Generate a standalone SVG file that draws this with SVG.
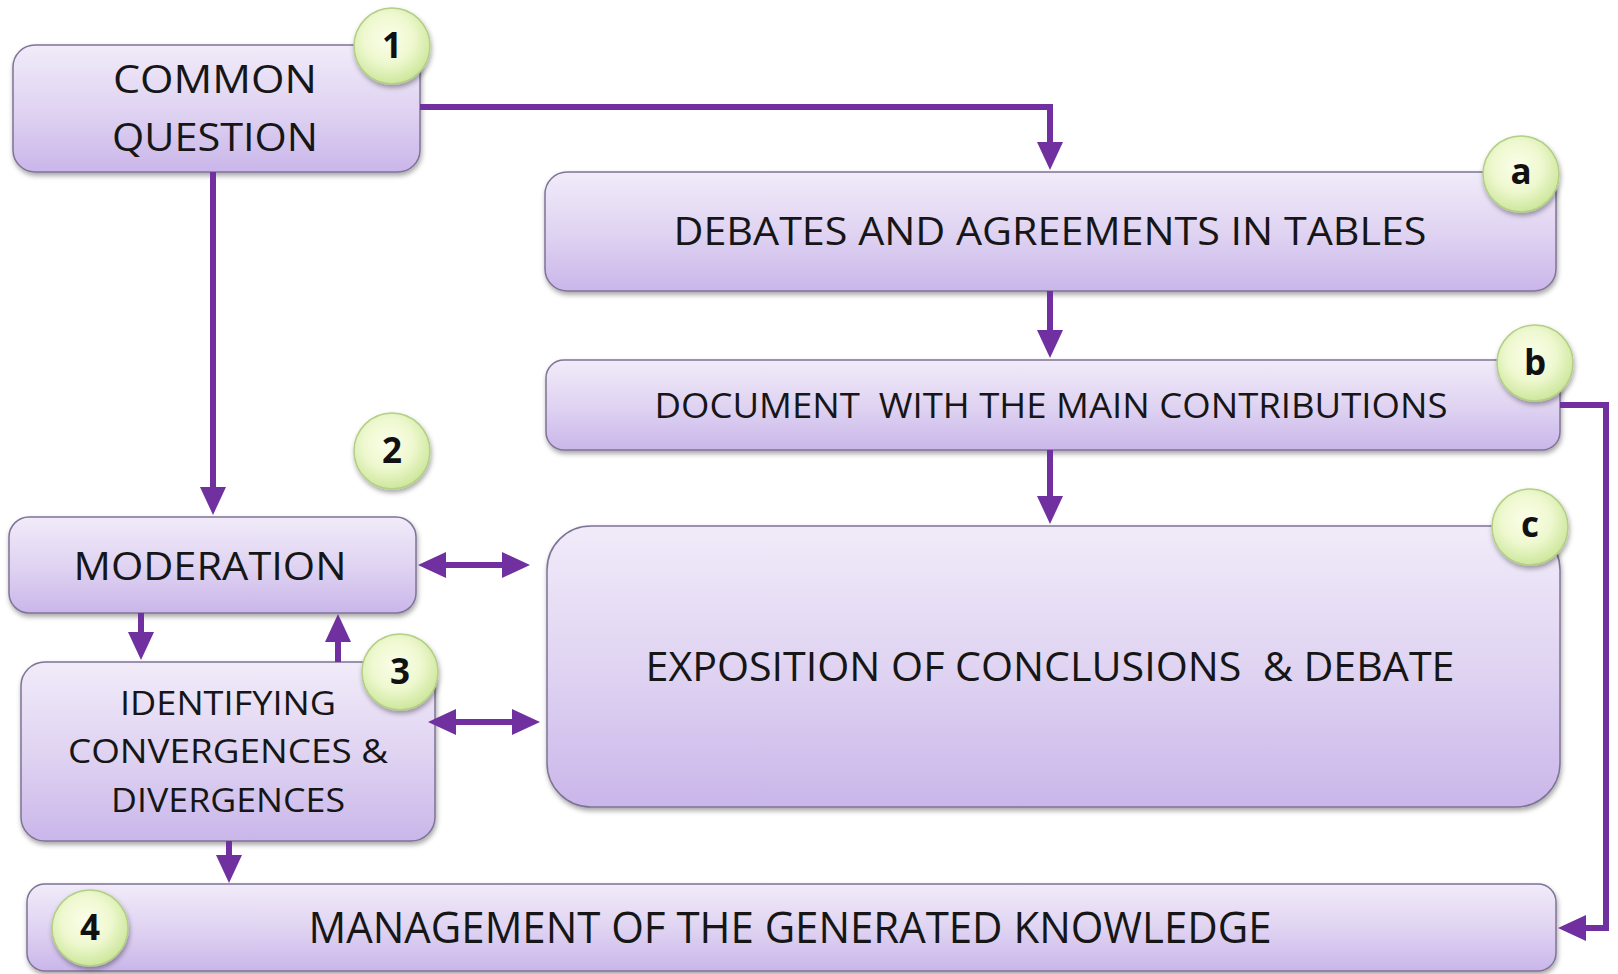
<svg xmlns="http://www.w3.org/2000/svg" width="1618" height="974" viewBox="0 0 1618 974">
<defs>
  <linearGradient id="boxGrad" x1="0" y1="0" x2="0" y2="1">
    <stop offset="0" stop-color="#f1ebf9"/>
    <stop offset="0.5" stop-color="#e0d4f2"/>
    <stop offset="1" stop-color="#cab6ea"/>
  </linearGradient>
  <radialGradient id="badgeGrad" cx="0.45" cy="0.4" r="0.6">
    <stop offset="0" stop-color="#fbfeea"/>
    <stop offset="0.55" stop-color="#eef8cf"/>
    <stop offset="1" stop-color="#cde79c"/>
  </radialGradient>
  <filter id="shadow" x="-10%" y="-10%" width="120%" height="130%">
    <feDropShadow dx="1" dy="3" stdDeviation="2.5" flood-color="#000" flood-opacity="0.35"/>
  </filter>
  <marker id="arrow" markerUnits="userSpaceOnUse" markerWidth="28" markerHeight="26" refX="14" refY="13" orient="auto-start-reverse" viewBox="0 0 28 26">
    <path d="M0,0 L28,13 L0,26 z" fill="#7030a0"/>
  </marker>
  <style>
    .box { fill: url(#boxGrad); stroke: #7f7396; stroke-width: 1.5; filter: url(#shadow); }
    .badge { fill: url(#badgeGrad); stroke: #b3cf86; stroke-width: 1.5; filter: url(#shadow); }
    .lbl { font-family: "Open Sans", "Liberation Sans", sans-serif; fill: #161616; text-anchor: middle; white-space: pre; }
    .num { font-family: "Open Sans", "Liberation Sans", sans-serif; font-weight: bold; font-size: 35px; fill: #111; text-anchor: middle; }
    .conn { fill: none; stroke: #7030a0; stroke-width: 6; }
    .arr { marker-end: url(#arrow); }
    .dbl { marker-start: url(#arrow); marker-end: url(#arrow); }
  </style>
</defs>
<rect width="1618" height="974" fill="#ffffff"/>

<g id="node-common-question">
  <rect class="box" x="13" y="45" width="407" height="127" rx="22"/>
  <text class="lbl" x="215" y="93" font-size="39" textLength="204" lengthAdjust="spacingAndGlyphs">COMMON</text>
  <text class="lbl" x="215" y="151" font-size="39" textLength="206" lengthAdjust="spacingAndGlyphs">QUESTION</text>
  <circle class="badge" cx="392" cy="46" r="38"/>
  <text class="num" x="392" y="58">1</text>
</g>

<g id="node-debates">
  <rect class="box" x="545" y="172" width="1011" height="119" rx="22"/>
  <text class="lbl" x="1050" y="245" font-size="39" textLength="753" lengthAdjust="spacingAndGlyphs">DEBATES AND AGREEMENTS IN TABLES</text>
  <circle class="badge" cx="1521" cy="174" r="38"/>
  <text class="num" x="1521" y="184">a</text>
</g>

<g id="node-document">
  <rect class="box" x="546" y="360" width="1014" height="90" rx="18"/>
  <text class="lbl" x="1051" y="418" font-size="35" textLength="793" lengthAdjust="spacingAndGlyphs">DOCUMENT  WITH THE MAIN CONTRIBUTIONS</text>
  <circle class="badge" cx="1535" cy="363" r="38"/>
  <text class="num" x="1535" y="375">b</text>
</g>

<g id="node-exposition">
  <rect class="box" x="547" y="526" width="1013" height="281" rx="44"/>
  <text class="lbl" x="1050" y="681" font-size="40" textLength="809" lengthAdjust="spacingAndGlyphs">EXPOSITION OF CONCLUSIONS  &amp; DEBATE</text>
  <circle class="badge" cx="1530" cy="527" r="38"/>
  <text class="num" x="1530" y="537">c</text>
</g>

<g id="node-moderation">
  <rect class="box" x="9" y="517" width="407" height="96" rx="20"/>
  <text class="lbl" x="210" y="580" font-size="38" textLength="273" lengthAdjust="spacingAndGlyphs">MODERATION</text>
  <circle class="badge" cx="392" cy="451" r="38"/>
  <text class="num" x="392" y="463">2</text>
</g>

<g id="node-identifying">
  <rect class="box" x="21" y="662" width="414" height="179" rx="24"/>
  <text class="lbl" x="228" y="715" font-size="32" textLength="216" lengthAdjust="spacingAndGlyphs">IDENTIFYING</text>
  <text class="lbl" x="228" y="763" font-size="32" textLength="320" lengthAdjust="spacingAndGlyphs">CONVERGENCES &amp;</text>
  <text class="lbl" x="228" y="812" font-size="32" textLength="234" lengthAdjust="spacingAndGlyphs">DIVERGENCES</text>
  <circle class="badge" cx="400" cy="672" r="38"/>
  <text class="num" x="400" y="684">3</text>
</g>

<g id="node-management">
  <rect class="box" x="27" y="884" width="1529" height="87" rx="18"/>
  <text class="lbl" x="790" y="943" font-size="43" textLength="963" lengthAdjust="spacingAndGlyphs">MANAGEMENT OF THE GENERATED KNOWLEDGE</text>
  <circle class="badge" cx="90" cy="928" r="38"/>
  <text class="num" x="90" y="940">4</text>
</g>

<g id="connectors">
  <path class="conn arr" d="M420,107 H1050 V156"/>
  <path class="conn arr" d="M213,172 V501"/>
  <path class="conn arr" d="M1050,291 V344"/>
  <path class="conn arr" d="M1050,450 V510"/>
  <path class="conn arr" d="M1560,405 H1606 V928 H1572"/>
  <path class="conn dbl" d="M432,565 H516"/>
  <path class="conn dbl" d="M442,722 H526"/>
  <path class="conn arr" d="M141,613 V646"/>
  <path class="conn arr" d="M338,662 V628"/>
  <path class="conn arr" d="M229,841 V869"/>
</g>
</svg>
